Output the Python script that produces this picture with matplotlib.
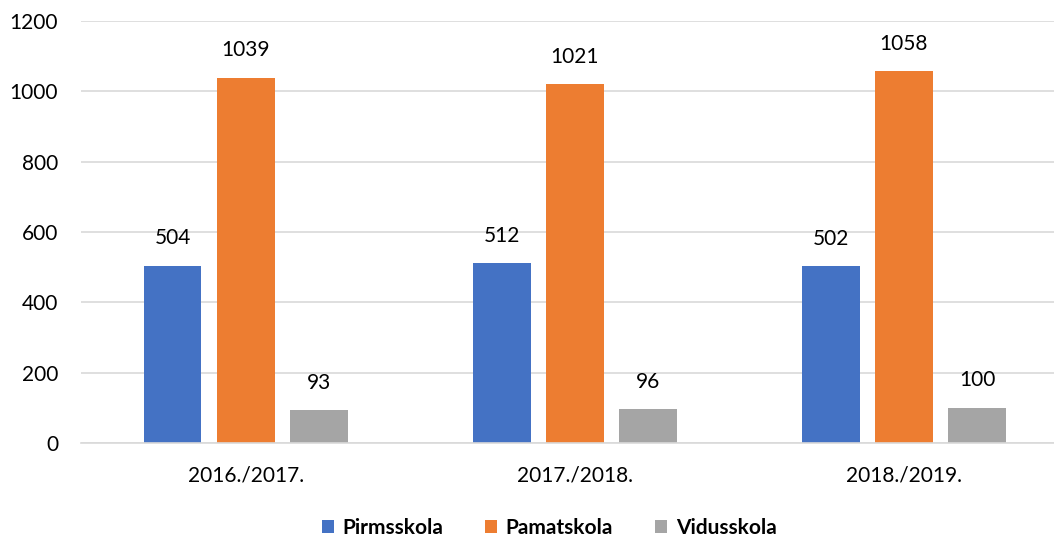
import numpy as np
import matplotlib.pyplot as plt

years = ['2016./2017.', '2017./2018.', '2018./2019.']
pirmsskola = [504, 512, 502]
pamatskola = [1039, 1021, 1058]
vidusskola = [93, 96, 100]
series_names = ['Pirmsskola', 'Pamatskola', 'Vidusskola']
colors = ['#4472C4', '#ED7D31', '#A5A5A5']

plt.rcParams['font.family'] = ['Lato', 'DejaVu Sans']

W, H = 1054, 537
fig = plt.figure(figsize=(W / 100, H / 100), dpi=100)
ax = fig.add_axes([81 / W, 1 - 443 / H, 1 - 81 / W, (443 - 21) / H])

x = np.arange(len(years))
width = 0.176
step = 0.222
for i, (vals, name, c) in enumerate(zip([pirmsskola, pamatskola, vidusskola], series_names, colors)):
    bars = ax.bar(x + (i - 1) * step, vals, width, color=c, label=name, zorder=2)
    for b, v in zip(bars, vals):
        ax.annotate(str(v), (b.get_x() + b.get_width() / 2, v), xytext=(0, 12.5),
                    textcoords='offset points', ha='center', va='bottom', fontsize=15)

ax.set_ylim(0, 1200)
ax.set_yticks(range(0, 1201, 200))
ax.set_xlim(-0.5, 2.456)
ax.set_xticks(x)
ax.set_xticklabels(years)
ax.tick_params(axis='both', length=0, labelsize=15)
ax.tick_params(axis='x', pad=16.5)
ax.tick_params(axis='y', pad=16.5)
ax.grid(axis='y', color='#D9D9D9', linewidth=1.2, zorder=0)
for s in ['top', 'right', 'left']:
    ax.spines[s].set_visible(False)
ax.spines['bottom'].set_color('#D9D9D9')
ax.spines['bottom'].set_linewidth(1.2)

fig.legend(loc='center', bbox_to_anchor=(549 / W, 1 - 528 / H), ncol=3, frameon=False,
           prop={'weight': 'bold', 'size': 15}, handlelength=0.6, handleheight=0.6,
           handletextpad=0.4, columnspacing=2.0)

fig.savefig('out.png', dpi=100)
